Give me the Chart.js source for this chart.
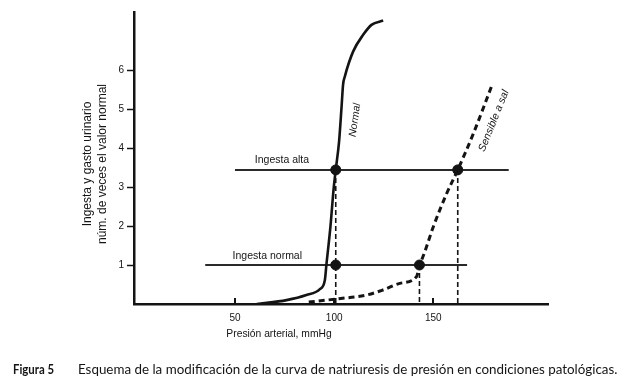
<!DOCTYPE html>
<html><head><meta charset="utf-8">
<script src="https://cdn.jsdelivr.net/npm/chart.js@4.4.0/dist/chart.umd.min.js"></script>
<style>html,body{margin:0;padding:0;background:#fff;}#wrap{position:relative;width:628px;height:383px;}</style>
</head><body><div id="wrap"><canvas id="c" width="628" height="383"></canvas></div>
<script>
// ---- data ----
const normalPressure = [61, 76, 86, 92.8, 95.3, 96.1, 98.1, 99.8, 100.8, 102.5, 103.7, 104.5, 105.4, 109.6, 114.7, 118.8, 124.7];
const normalOutput   = [0, 0.1, 0.23, 0.38, 0.61, 1.01, 1.97, 2.99, 3.44, 4.18, 5.03, 5.63, 5.84, 6.48, 6.91, 7.16, 7.27];
const saltPressure = [87.2, 101.3, 116.4, 124.6, 133.1, 141.5, 143.2, 145.7, 149.9, 156.6, 162.3, 170, 179.4];
const saltOutput   = [0.05, 0.13, 0.23, 0.36, 0.53, 0.70, 1.0, 1.34, 1.97, 2.82, 3.44, 4.35, 5.59];
const intakeNames  = ['Ingesta normal', 'Ingesta alta'];
const intakeLevels = [1.0, 3.44];
const intakeFrom   = [35, 50];
const intakeTo     = [167, 188];
const eqPressure = [100.8, 100.8, 143, 162.3];
const eqLevel    = [3.44, 1.0, 1.0, 3.44];
const dropPressure = [100.8, 143, 162.3];
const dropTop      = [3.44, 1.0, 3.44];
const xTickValues = [50, 100, 150];
const yTickValues = [1, 2, 3, 4, 5, 6];
const yTitle = ['Ingesta y gasto urinario', 'núm. de veces el valor normal'];
const xTitle = 'Presión arterial, mmHg';
const curveNames = ['Normal', 'Sensible a sal'];
const captionLead = 'Figura 5';
const captionText = 'Esquema de la modificación de la curva de natriuresis de presión en condiciones patológicas.';

const pts = (xs, ys) => xs.map((x, i) => ({x, y: ys[i]}));
const INK = '#141414';
const FONT = '"Liberation Sans", Arial, sans-serif';

const datasets = [];
intakeLevels.forEach((lv, i) => {
  datasets.push({data: [{x: intakeFrom[i], y: lv}, {x: intakeTo[i], y: lv}], showLine: true,
    borderColor: '#2a2a2a', borderWidth: 2, pointRadius: 0, order: 3});
});
dropPressure.forEach((px, i) => {
  datasets.push({data: [{x: px, y: dropTop[i]}, {x: px, y: 0}], showLine: true,
    borderColor: INK, borderWidth: 1.6, borderDash: [5, 3], pointRadius: 0, order: 3});
});
datasets.push({data: pts(normalPressure, normalOutput), showLine: true, borderColor: INK,
  borderWidth: 2.6, pointRadius: 0, cubicInterpolationMode: 'monotone', order: 2});
datasets.push({data: pts(saltPressure, saltOutput), showLine: true, borderColor: INK,
  borderWidth: 3, borderDash: [6, 4], pointRadius: 0, cubicInterpolationMode: 'monotone', order: 2});
datasets.push({data: pts(eqPressure, eqLevel), showLine: false, pointRadius: 5,
  pointBackgroundColor: INK, pointBorderColor: INK, order: 1});

function fitFont(ctx, style, family, text, width) {
  ctx.font = style + ' 10px ' + family;
  const s = 10 * width / ctx.measureText(text).width;
  ctx.font = style + ' ' + s.toFixed(2) + 'px ' + family;
  return s;
}

const decor = {
  id: 'decor',
  afterDraw(chart) {
    const ctx = chart.ctx, xs = chart.scales.x, ys = chart.scales.y;
    ctx.save();
    // inward x tick marks
    ctx.strokeStyle = INK; ctx.lineWidth = 2;
    xTickValues.forEach(v => {
      const px = Math.round(xs.getPixelForValue(v));
      ctx.beginPath(); ctx.moveTo(px, ys.bottom); ctx.lineTo(px, ys.bottom - 6); ctx.stroke();
    });
    ctx.fillStyle = INK;
    // intake labels
    ctx.font = '10.5px ' + FONT; ctx.textAlign = 'left'; ctx.textBaseline = 'alphabetic';
    ctx.fillText(intakeNames[1], xs.getPixelForValue(60), ys.getPixelForValue(intakeLevels[1]) - 7);
    ctx.fillText(intakeNames[0], xs.getPixelForValue(48.8), ys.getPixelForValue(intakeLevels[0]) - 6.5);
    // curve labels
    ctx.font = 'italic 10.5px ' + FONT; ctx.textAlign = 'center'; ctx.textBaseline = 'middle';
    ctx.save(); ctx.translate(xs.getPixelForValue(110.5), ys.getPixelForValue(4.72));
    ctx.rotate(-82 * Math.PI / 180); ctx.fillText(curveNames[0], 0, 0); ctx.restore();
    ctx.save(); ctx.translate(xs.getPixelForValue(180.5), ys.getPixelForValue(4.7));
    ctx.rotate(-68 * Math.PI / 180); ctx.fillText(curveNames[1], 0, 0); ctx.restore();
    // axis titles
    ctx.font = '12px ' + FONT;
    ctx.save(); ctx.translate(88, 164); ctx.rotate(-Math.PI / 2);
    ctx.fillText(yTitle[0], 0, 0); ctx.fillText(yTitle[1], 0, 15); ctx.restore();
    ctx.font = '10.3px ' + FONT;
    ctx.fillText(xTitle, 279, 334);
    // caption
    ctx.textAlign = 'left'; ctx.textBaseline = 'alphabetic';
    const cf = 'Lato, "Noto Sans", sans-serif';
    const s = fitFont(ctx, 'normal', cf, captionText, 540);
    ctx.fillText(captionText, 78, 374);
    ctx.font = 'bold ' + s.toFixed(2) + 'px ' + cf;
    ctx.fillText(captionLead, 13, 374, 41);
    ctx.restore();
  }
};

new Chart(document.getElementById('c'), {
  type: 'scatter',
  data: {datasets},
  options: {
    responsive: false, animation: false, devicePixelRatio: 1,
    layout: {padding: {left: 0, right: 80, top: 12, bottom: 0}},
    plugins: {legend: {display: false}, tooltip: {enabled: false}},
    scales: {
      x: {type: 'linear', min: -0.9, max: 207.8,
        afterFit: s => { s.height = 79; },
        afterBuildTicks: s => { s.ticks = xTickValues.map(v => ({value: v})); },
        grid: {display: false, drawTicks: false},
        border: {display: true, color: INK, width: 2.5},
        ticks: {padding: 8, color: INK, font: {family: FONT, size: 10}, maxRotation: 0}
      },
      y: {type: 'linear', min: 0, max: 7.49,
        afterFit: s => { s.width = 134; },
        afterBuildTicks: s => { s.ticks = yTickValues.map(v => ({value: v})); },
        grid: {display: true, drawOnChartArea: false, drawTicks: true, tickLength: 7, tickWidth: 1.5, tickColor: INK},
        border: {display: true, color: INK, width: 2.5},
        ticks: {padding: 3, color: INK, font: {family: FONT, size: 10}}
      }
    }
  },
  plugins: [decor]
});
</script></body></html>
